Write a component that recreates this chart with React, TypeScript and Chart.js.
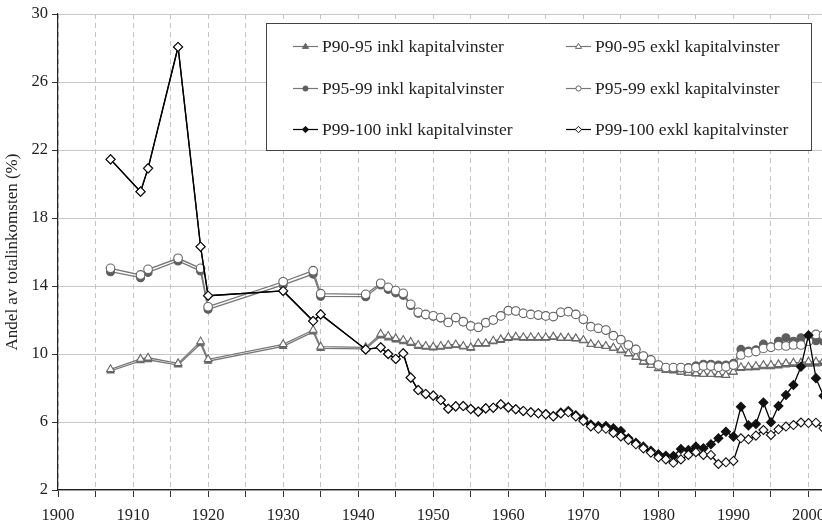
import React, { useEffect, useRef } from 'react';
import { Chart, registerables } from 'chart.js';

Chart.register(...registerables);

const years = [
  1907, 1911, 1912, 1916, 1919, 1920, 1930, 1934, 1935, 1941,
  1943, 1944, 1945, 1946, 1947, 1948, 1949, 1950, 1951, 1952,
  1953, 1954, 1955, 1956, 1957, 1958, 1959, 1960, 1961, 1962,
  1963, 1964, 1965, 1966, 1967, 1968, 1969, 1970, 1971, 1972,
  1973, 1974, 1975, 1976, 1977, 1978, 1979, 1980, 1981, 1982,
  1983, 1984, 1985, 1986, 1987, 1988, 1989, 1990, 1991, 1992,
  1993, 1994, 1995, 1996, 1997, 1998, 1999, 2000, 2001, 2002,
];

const p90Inkl = [
  9.0, 9.6, 9.66, 9.35, 10.6, 9.58, 10.45, 11.3, 10.33, 10.3,
  11.06, 10.95, 10.82, 10.72, 10.62, 10.45, 10.4, 10.36, 10.4, 10.46,
  10.5, 10.42, 10.34, 10.57, 10.58, 10.72, 10.8, 10.92, 10.96, 10.93,
  10.93, 10.93, 10.93, 10.97, 10.92, 10.92, 10.88, 10.78, 10.56, 10.5,
  10.44, 10.34, 10.2, 10.0, 9.8, 9.52, 9.32, 9.13, 9.03, 9.0,
  8.93, 8.87, 8.83, 8.8, 8.8, 8.78, 8.74, 8.93, 9.15, 9.18,
  9.2, 9.25, 9.25, 9.3, 9.35, 9.38, 9.38, 9.4, 9.42, 9.45,
];

const p90Exkl = [
  9.1, 9.71, 9.78, 9.45, 10.73, 9.69, 10.57, 11.41, 10.43, 10.39,
  11.18, 11.06, 10.92, 10.82, 10.71, 10.53, 10.47, 10.43, 10.47, 10.53,
  10.56, 10.47, 10.39, 10.63, 10.63, 10.78, 10.86, 10.98, 11.02, 10.98,
  10.98, 10.98, 10.98, 11.02, 10.96, 10.96, 10.92, 10.82, 10.59, 10.53,
  10.47, 10.37, 10.24, 10.04, 9.84, 9.55, 9.35, 9.16, 9.06, 9.04,
  8.96, 8.9, 8.86, 8.82, 8.82, 8.8, 8.76, 8.96, 9.22, 9.25,
  9.29, 9.35, 9.35, 9.39, 9.45, 9.49, 9.49, 9.55, 9.55, 9.61,
];

const p95Inkl = [
  14.84, 14.49, 14.8, 15.47, 14.88, 12.63, 14.06, 14.7, 13.39, 13.37,
  14.06, 13.8, 13.6, 13.45, 12.85, 12.4, 12.3, 12.22, 12.12, 11.85,
  12.14, 11.9, 11.65, 11.57, 11.84, 12.0, 12.24, 12.55, 12.53, 12.39,
  12.33, 12.29, 12.24, 12.2, 12.45, 12.49, 12.33, 12.04, 11.61, 11.51,
  11.41, 11.08, 10.84, 10.53, 10.27, 9.88, 9.65, 9.35, 9.2, 9.2,
  9.2, 9.2, 9.3, 9.4, 9.4, 9.35, 9.35, 9.45, 10.27, 10.18,
  10.25, 10.58, 10.43, 10.75, 10.96, 10.75, 10.95, 10.9, 10.78, 10.75,
];

const p95Exkl = [
  15.04, 14.65, 14.98, 15.63, 15.04, 12.78, 14.25, 14.9, 13.55, 13.51,
  14.16, 13.92, 13.73, 13.57, 12.92, 12.45, 12.33, 12.25, 12.14, 11.86,
  12.14, 11.9, 11.65, 11.57, 11.84, 12.0, 12.24, 12.55, 12.53, 12.39,
  12.33, 12.29, 12.24, 12.2, 12.45, 12.49, 12.33, 12.04, 11.61, 11.51,
  11.41, 11.08, 10.84, 10.53, 10.27, 9.88, 9.65, 9.35, 9.2, 9.2,
  9.2, 9.16, 9.2, 9.29, 9.29, 9.22, 9.25, 9.35, 9.94, 10.08,
  10.14, 10.33, 10.39, 10.49, 10.47, 10.53, 10.53, 10.75, 11.15, 11.1,
];

const p99Inkl = [
  21.45, 19.55, 20.92, 28.06, 16.31, 13.43, 13.71, 11.94, 12.33, 10.27,
  10.39, 10.0, 9.71, 10.04, 8.61, 7.88, 7.65, 7.55, 7.29, 6.78,
  6.92, 6.94, 6.76, 6.61, 6.8, 6.84, 7.04, 6.86, 6.75, 6.65,
  6.57, 6.51, 6.47, 6.35, 6.55, 6.65, 6.4, 6.2, 5.85, 5.76,
  5.76, 5.63, 5.47, 5.04, 4.78, 4.55, 4.31, 4.1, 4.02, 4.0,
  4.41, 4.35, 4.55, 4.45, 4.69, 5.04, 5.43, 5.14, 6.9, 5.8,
  5.88, 7.15, 5.98, 6.94, 7.59, 8.18, 9.25, 11.1, 8.58, 7.54,
];

const p99Exkl = [
  21.45, 19.55, 20.92, 28.06, 16.31, 13.43, 13.71, 11.94, 12.33, 10.27,
  10.39, 10.0, 9.71, 10.04, 8.61, 7.88, 7.65, 7.55, 7.29, 6.78,
  6.92, 6.94, 6.76, 6.61, 6.8, 6.84, 7.04, 6.86, 6.75, 6.65,
  6.57, 6.51, 6.45, 6.33, 6.5, 6.57, 6.33, 6.06, 5.74, 5.6,
  5.6, 5.36, 5.15, 4.95, 4.69, 4.45, 4.2, 3.92, 3.8, 3.6,
  3.8, 4.06, 4.22, 4.06, 4.06, 3.53, 3.63, 3.71, 5.04, 4.98,
  5.2, 5.53, 5.24, 5.57, 5.73, 5.82, 5.97, 5.94, 5.96, 5.63,
];

const seriesNames = [
  'P90-95 inkl kapitalvinster',
  'P90-95 exkl kapitalvinster',
  'P95-99 inkl kapitalvinster',
  'P95-99 exkl kapitalvinster',
  'P99-100 inkl kapitalvinster',
  'P99-100 exkl kapitalvinster',
];

const yTitle = 'Andel av totalinkomsten (%)';

const FONT = '"Liberation Serif", "Times New Roman", serif';
const GRAY_LINE = '#777777';
const GRAY_MARK = '#666666';

type Style = { shape: 'triangle' | 'circle' | 'rectRot'; filled: boolean; line: string; mark: string; r: number };

const styles: Style[] = [
  { shape: 'triangle', filled: true, line: GRAY_LINE, mark: GRAY_MARK, r: 4 },
  { shape: 'triangle', filled: false, line: GRAY_LINE, mark: GRAY_MARK, r: 4.5 },
  { shape: 'circle', filled: true, line: GRAY_LINE, mark: '#5e5e5e', r: 4 },
  { shape: 'circle', filled: false, line: GRAY_LINE, mark: GRAY_MARK, r: 4.3 },
  { shape: 'rectRot', filled: true, line: '#000000', mark: '#111111', r: 4.5 },
  { shape: 'rectRot', filled: false, line: '#000000', mark: '#111111', r: 4.5 },
];

function drawMarker(ctx: CanvasRenderingContext2D, s: Style, x: number, y: number, r: number) {
  ctx.beginPath();
  if (s.shape === 'circle') {
    ctx.arc(x, y, r, 0, Math.PI * 2);
  } else if (s.shape === 'triangle') {
    ctx.moveTo(x, y - r);
    ctx.lineTo(x + r * 0.95, y + r * 0.6);
    ctx.lineTo(x - r * 0.95, y + r * 0.6);
    ctx.closePath();
  } else {
    ctx.moveTo(x, y - r);
    ctx.lineTo(x + r, y);
    ctx.lineTo(x, y + r);
    ctx.lineTo(x - r, y);
    ctx.closePath();
  }
  ctx.fillStyle = s.filled ? s.mark : '#ffffff';
  ctx.fill();
  ctx.lineWidth = 1;
  ctx.strokeStyle = s.mark;
  ctx.stroke();
}

const legendPlugin = {
  id: 'boxLegend',
  afterDraw(chart: any) {
    const ctx: CanvasRenderingContext2D = chart.ctx;
    ctx.save();
    const bx = 266.5, by = 23.5, bw = 545, bh = 127;
    ctx.fillStyle = '#ffffff';
    ctx.fillRect(bx, by, bw, bh);
    ctx.lineWidth = 1;
    ctx.strokeStyle = '#444444';
    ctx.strokeRect(bx, by, bw, bh);
    const colX = [293, 566];
    const rowY = [46, 88, 129];
    ctx.font = `17.5px ${FONT}`;
    ctx.textBaseline = 'middle';
    ctx.textAlign = 'left';
    seriesNames.forEach((name, i) => {
      const col = i % 2;
      const row = Math.floor(i / 2);
      const x0 = colX[col];
      const y = rowY[row];
      const s = styles[i];
      ctx.beginPath();
      ctx.moveTo(x0, y + 0.5);
      ctx.lineTo(x0 + 25, y + 0.5);
      ctx.strokeStyle = s.line;
      ctx.lineWidth = 1.2;
      ctx.stroke();
      drawMarker(ctx, s, x0 + 12.5, y + 0.5, s.shape === 'circle' ? 2.6 : 3.2);
      ctx.fillStyle = '#222222';
      ctx.fillText(name, x0 + 29, y + 1);
    });
    ctx.restore();
  },
};

export default function App() {
  const ref = useRef<HTMLCanvasElement | null>(null);

  useEffect(() => {
    document.body.style.margin = '0';
    const canvas = ref.current;
    if (!canvas) return;
    const valueSets = [p90Inkl, p90Exkl, p95Inkl, p95Exkl, p99Inkl, p99Exkl];
    const orders = [6, 5, 4, 3, 2, 1];
    const datasets = valueSets.map((vals, i) => {
      const s = styles[i];
      return {
        label: seriesNames[i],
        data: years.map((yr, k) => ({ x: yr, y: vals[k] })),
        borderColor: s.line,
        borderWidth: 1.3,
        pointStyle: s.shape,
        pointRadius: s.r,
        pointBorderWidth: 1.1,
        pointBackgroundColor: s.filled ? s.mark : '#ffffff',
        pointBorderColor: s.mark,
        tension: 0,
        order: orders[i],
        clip: false as any,
      };
    });

    const chart = new Chart(canvas, {
      type: 'line',
      data: { datasets },
      plugins: [legendPlugin],
      options: {
        animation: false,
        responsive: true,
        maintainAspectRatio: false,
        layout: { autoPadding: false, padding: { top: 14, right: 0, bottom: 0, left: 0 } },
        plugins: { legend: { display: false }, tooltip: { enabled: false } },
        scales: {
          x: {
            type: 'linear',
            min: 1900,
            max: 2005,
            afterFit: (scale: any) => { scale.height = 35; scale.paddingRight = 0; },
            ticks: {
              stepSize: 5,
              autoSkip: false,
              maxRotation: 0,
              padding: 9,
              color: '#222222',
              font: { family: FONT, size: 16.5 },
              callback: (v: any) => (Number(v) % 10 === 0 ? String(v) : ''),
            },
            grid: {
              color: '#c4c4c4',
              lineWidth: 1,
              tickLength: 7,
              tickColor: '#333333',
              drawTicks: true,
            },
            border: { color: '#222222', width: 1.2, dash: [5, 4] },
          },
          y: {
            type: 'linear',
            min: 2,
            max: 30,
            afterFit: (scale: any) => { scale.width = 58; },
            ticks: {
              stepSize: 4,
              padding: 4,
              color: '#222222',
              font: { family: FONT, size: 16.5 },
            },
            grid: {
              color: '#c8c8c8',
              lineWidth: 1,
              tickLength: 6,
              tickColor: '#333333',
            },
            border: { color: '#222222', width: 1.2 },
            title: {
              display: true,
              text: yTitle,
              color: '#222222',
              font: { family: FONT, size: 17 },
              padding: { top: 2, bottom: 2 },
            },
          },
        },
      },
    });
    return () => chart.destroy();
  }, []);

  return (
    <div style={{ position: 'fixed', left: 0, top: 0, width: 822, height: 525, overflow: 'hidden', background: '#ffffff' }}>
      <div style={{ position: 'relative', width: 846, height: 525 }}>
        <canvas ref={ref} />
      </div>
    </div>
  );
}
